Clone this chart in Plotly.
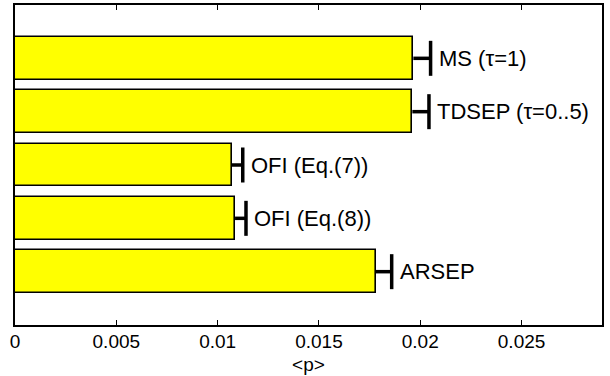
import plotly.graph_objects as go

labels = ["ARSEP", "OFI (Eq.(8))", "OFI (Eq.(7))", "TDSEP (τ=0..5)", "MS (τ=1)"]
positions = [1, 2, 3, 4, 5]
values = [0.0178, 0.01086, 0.0107, 0.01961, 0.01966]
errors = [0.00079, 0.00054, 0.00054, 0.00082, 0.00085]
tick_vals = [0, 0.005, 0.01, 0.015, 0.02, 0.025]
tick_text = ["0", "0.005", "0.01", "0.015", "0.02", "0.025"]

FONT = "Liberation Sans, Arial, Helvetica, sans-serif"

fig = go.Figure()
fig.add_trace(go.Bar(
    x=values, y=positions, orientation="h", width=0.8,
    marker=dict(color="#FFFF00", line=dict(color="black", width=1.6)),
    showlegend=False, hoverinfo="skip",
))

# one-sided error bars: stems
ex, ey = [], []
for v, e, p in zip(values, errors, positions):
    ex += [v, v + e, None]
    ey += [p, p, None]
fig.add_trace(go.Scatter(
    x=ex, y=ey, mode="lines", line=dict(color="black", width=3.5),
    showlegend=False, hoverinfo="skip",
))
# caps
fig.add_trace(go.Scatter(
    x=[v + e for v, e in zip(values, errors)], y=positions, mode="markers",
    marker=dict(symbol="line-ns", size=25, line=dict(color="black", width=3.5)),
    showlegend=False, hoverinfo="skip",
))

for v, e, p, lab in zip(values, errors, positions, labels):
    fig.add_annotation(
        x=v + e, y=p, text=lab, showarrow=False, xanchor="left", yanchor="middle",
        xshift=6, font=dict(family=FONT, size=22, color="black"),
    )

fig.update_layout(
    width=610, height=376,
    margin=dict(l=15, r=8, t=5, b=51),
    plot_bgcolor="white", paper_bgcolor="white",
    font=dict(family=FONT, color="black"),
    bargap=0,
)
fig.update_xaxes(
    range=[0, 0.02897], tickvals=tick_vals, ticktext=tick_text,
    ticks="inside", ticklen=5, tickcolor="black", tickwidth=1,
    showline=True, linecolor="black", linewidth=1.5, mirror="ticks",
    showgrid=False, zeroline=False, automargin=False,
    ticklabelstandoff=-2,
    tickfont=dict(family=FONT, size=19, color="black"),
    title=dict(text="&lt;p&gt;", font=dict(family=FONT, size=19, color="black"), standoff=7),
)
fig.update_yaxes(
    range=[0, 6], showticklabels=False, ticks="",
    showline=True, linecolor="black", linewidth=1.5, mirror=True,
    showgrid=False, zeroline=False, automargin=False,
)

fig.write_html("out.html", config={"displayModeBar": False},
               post_script="document.body.style.margin='0';")
